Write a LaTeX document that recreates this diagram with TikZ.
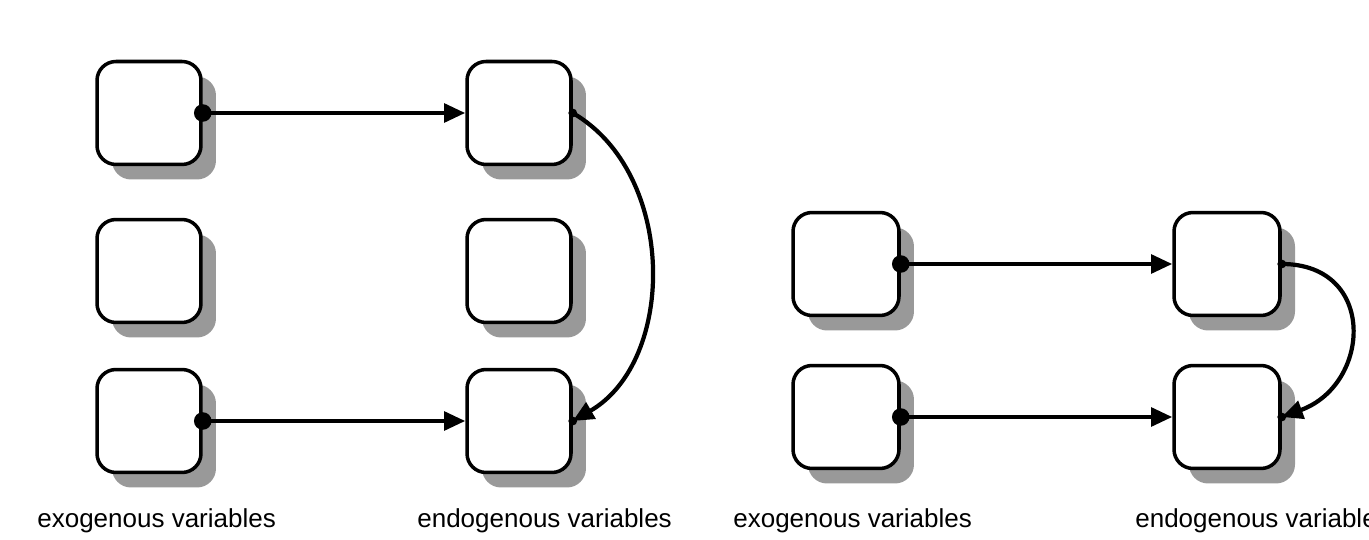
\documentclass[tikz,border=0pt]{standalone}
\usepackage{fontspec}
\setmainfont{Liberation Sans}
\usetikzlibrary{arrows.meta,shadows}

\tikzset{
  var/.style={draw, line width=2pt, fill=white, rounded corners=0.38cm,
    minimum width=2.08cm, minimum height=2.06cm, inner sep=0pt,
    drop shadow={shadow xshift=0.3cm, shadow yshift=-0.3cm, fill=black!40, opacity=1}},
  link/.style={line width=2.4pt, -{Triangle[length=12pt,width=10.5pt]}},
  caption/.style={anchor=west, inner sep=0pt, font=\fontsize{14.8}{17}\selectfont}
}

\begin{document}
\begin{tikzpicture}[x=0.02cm, y=-0.02cm]
  \useasboundingbox (0,0) rectangle (1369,540);

  % left diagram
  \foreach \i/\y in {1/113,2/271,3/421} {
    \node[var] (x\i) at (149,\y) {};
    \node[var] (n\i) at (519,\y) {};
  }
  % right diagram
  \foreach \i/\y in {1/264,2/417} {
    \node[var, minimum width=2.12cm] (rx\i) at (846,\y) {};
    \node[var, minimum width=2.12cm] (rn\i) at (1227,\y) {};
  }

  \foreach \a/\b in {x1/n1,x3/n3,rx1/rn1,rx2/rn2} {
    \draw[link] (\a.east) -- (\b.west);
    \fill (\a.east) circle (5pt);
  }

  \draw[link] (n1.east) to[bend left=60] (n3.east);
  \fill (n1.east) circle (2.5pt) (n3.east) circle (2.5pt);
  \draw[link] (rn1.east) to[out=0,in=20,looseness=1.6] (rn2.east);
  \fill (rn1.east) circle (2.5pt) (rn2.east) circle (2.5pt);

  \node[caption] (lx) at (37,521) {exogenous variables};
  \node[caption] (ln) at (417,521) {endogenous variables};
  \node[caption] (rlx) at (733,521) {exogenous variables};
  \node[caption] (rln) at (1135,521) {endogenous variables};
\end{tikzpicture}
\end{document}
